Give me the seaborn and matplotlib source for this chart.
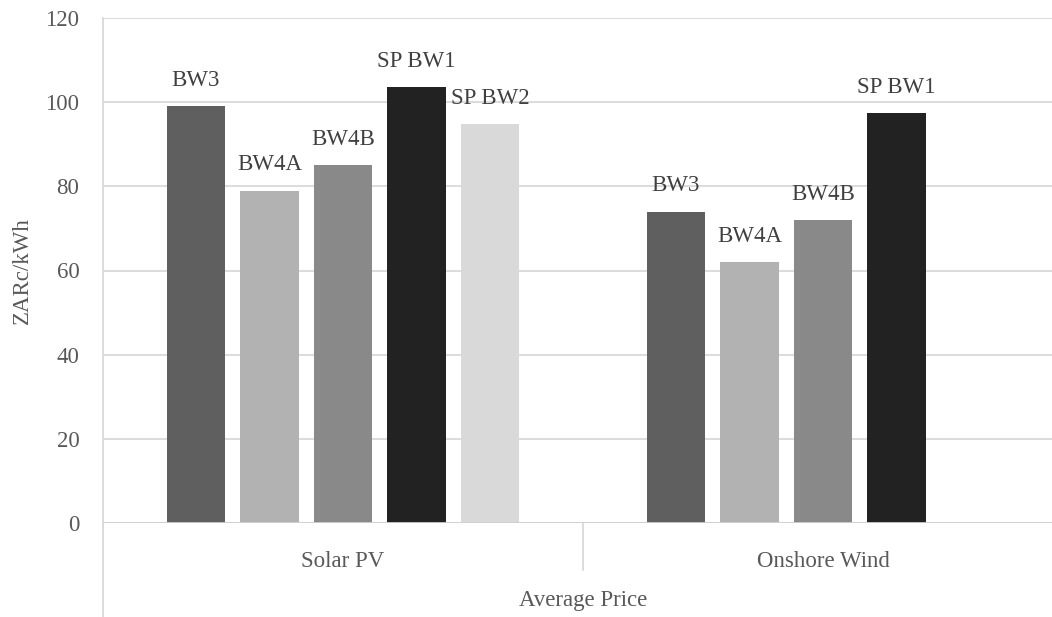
import pandas as pd
import numpy as np
import matplotlib.pyplot as plt
import seaborn as sns

# du lieu doc tu hinh
technologies = ["Solar PV", "Onshore Wind"]
rounds = ["BW3", "BW4A", "BW4B", "SP BW1", "SP BW2"]
solar_prices = [99, 79, 85, 103.6, 94.7]
wind_prices = [74, 62, 72, 97.4]   # khong co SP BW2
bar_colors = ["#5f5f5f", "#b2b2b2", "#898989", "#222222", "#d9d9d9"]

rows = []
for r, v in zip(rounds, solar_prices):
    rows.append({"tech": technologies[0], "round": r, "price": v})
for r, v in zip(rounds, wind_prices):
    rows.append({"tech": technologies[1], "round": r, "price": v})
df = pd.DataFrame(rows)

sns.set_style("white")
plt.rcParams["font.family"] = ["Liberation Serif", "DejaVu Serif"]

W, H = 1052, 617
fig = plt.figure(figsize=(W / 100, H / 100), dpi=100)
# truc x keo dai qua mep phai cua hinh (hinh goc bi cat)
ax = fig.add_axes([103 / W, 94 / H, 960 / W, 505 / H])

sns.barplot(data=df, x="tech", y="price", hue="round", order=technologies,
            hue_order=rounds, palette=bar_colors, width=0.766, gap=0.21,
            saturation=1, legend=False, ax=ax, linewidth=0)

grid_c = "#d9d9d9"
ax.set_ylim(0, 120)
ax.set_yticks(np.arange(0, 121, 20))
ax.set_xlim(-0.5, 1.5)
ax.yaxis.grid(True, color=grid_c, linewidth=1.3)
ax.set_axisbelow(True)
for s in ["top", "right", "bottom"]:
    ax.spines[s].set_visible(False)
ax.spines["left"].set_color(grid_c)
ax.spines["left"].set_linewidth(1.3)
ax.axhline(0, color="#d0d0d0", linewidth=2, zorder=3)

# duong doc o vung nhan (truc nhieu cap kieu Excel)
ax.plot([0, 0], [0, -94 / 505], transform=ax.transAxes, color=grid_c,
        linewidth=1.3, clip_on=False)
ax.plot([0.5, 0.5], [0, -47 / 505], transform=ax.transAxes, color=grid_c,
        linewidth=1.3, clip_on=False)

ax.tick_params(axis="y", length=5, width=1.3, color=grid_c, pad=12,
               labelsize=16.5, labelcolor="#595959")
ax.tick_params(axis="x", length=0, pad=20, labelsize=16.5, labelcolor="#595959")
ax.set_xlabel("Average Price", fontsize=16.5, color="#595959", labelpad=13)
ax.set_ylabel("ZARc/kWh", fontsize=16.5, color="#595959", labelpad=9)

# nhan ten dot tren moi cot
for cont, name in zip(ax.containers, rounds):
    ax.bar_label(cont, labels=[name] * len(cont), padding=11,
                 fontsize=16.5, color="#404040")

fig.savefig("out.png", dpi=100)
